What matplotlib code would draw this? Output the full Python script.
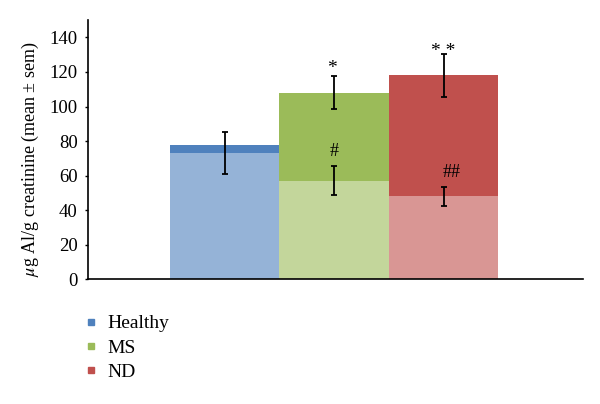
import matplotlib
matplotlib.use('Agg')
import matplotlib.pyplot as plt
from matplotlib.lines import Line2D

plt.rcParams['font.family'] = ['Liberation Serif', 'DejaVu Serif']
plt.rcParams['mathtext.fontset'] = 'stix'

groups = ['Healthy', 'MS', 'ND']
total = [78, 108, 118]        # full (dark) bar
part = [73, 57, 48]           # lighter lower bar
total_err = [None, 9.7, 12.2]
part_err = [12.3, 8.4, 5.5]
dark = ['#4F81BD', '#9BBB59', '#C0504D']
light = ['#95B3D7', '#C3D69B', '#D99694']
top_marks = ['', '*', '* *']
mid_marks = ['', '#', '##']

fig = plt.figure(figsize=(6, 4.04), dpi=100)
ax = fig.add_axes([0.1467, 0.309, 0.8253, 0.641])

x = list(range(len(groups)))
ax.bar(x, total, width=1.0, color=dark, linewidth=0)
ax.bar(x, part, width=1.0, color=light, linewidth=0)

for i in x:
    ax.errorbar(i, part[i], yerr=part_err[i], color='black', lw=1.3,
                capsize=2.2, capthick=1.3)
    if total_err[i] is not None:
        ax.errorbar(i, total[i], yerr=total_err[i], color='black', lw=1.3,
                    capsize=2.2, capthick=1.3)

# significance marks
ax.text(0.98, 122, top_marks[1], ha='center', va='center', fontsize=14)
ax.text(2.0, 132, top_marks[2], ha='center', va='center', fontsize=14)
ax.text(1.0, 74, mid_marks[1], ha='center', va='center', fontsize=13)
ax.text(2.07, 62, mid_marks[2], ha='center', va='center', fontsize=13)

ax.set_xlim(-1.247, 3.274)
ax.set_ylim(0, 150)
ax.set_yticks(range(0, 141, 20))
ax.set_xticks([])
ax.tick_params(axis='y', labelsize=13.5, length=2.5, width=1, direction='out', pad=5)
for s in ['top', 'right']:
    ax.spines[s].set_visible(False)
ax.spines['left'].set_linewidth(1.2)
ax.spines['bottom'].set_linewidth(1.2)
ax.set_ylabel('$\\mu$g Al/g creatinine (mean ± sem)', fontsize=13)
ax.yaxis.set_label_coords(-0.095, 0.465)

handles = [Line2D([], [], marker='s', ls='', color=c, markersize=5) for c in dark]
fig.legend(handles, groups, loc='upper left', bbox_to_anchor=(0.123, 0.24),
           frameon=False, fontsize=14, handletextpad=0.35, labelspacing=0.35,
           handlelength=1.0, borderaxespad=0)

fig.savefig('out.png', dpi=100)
